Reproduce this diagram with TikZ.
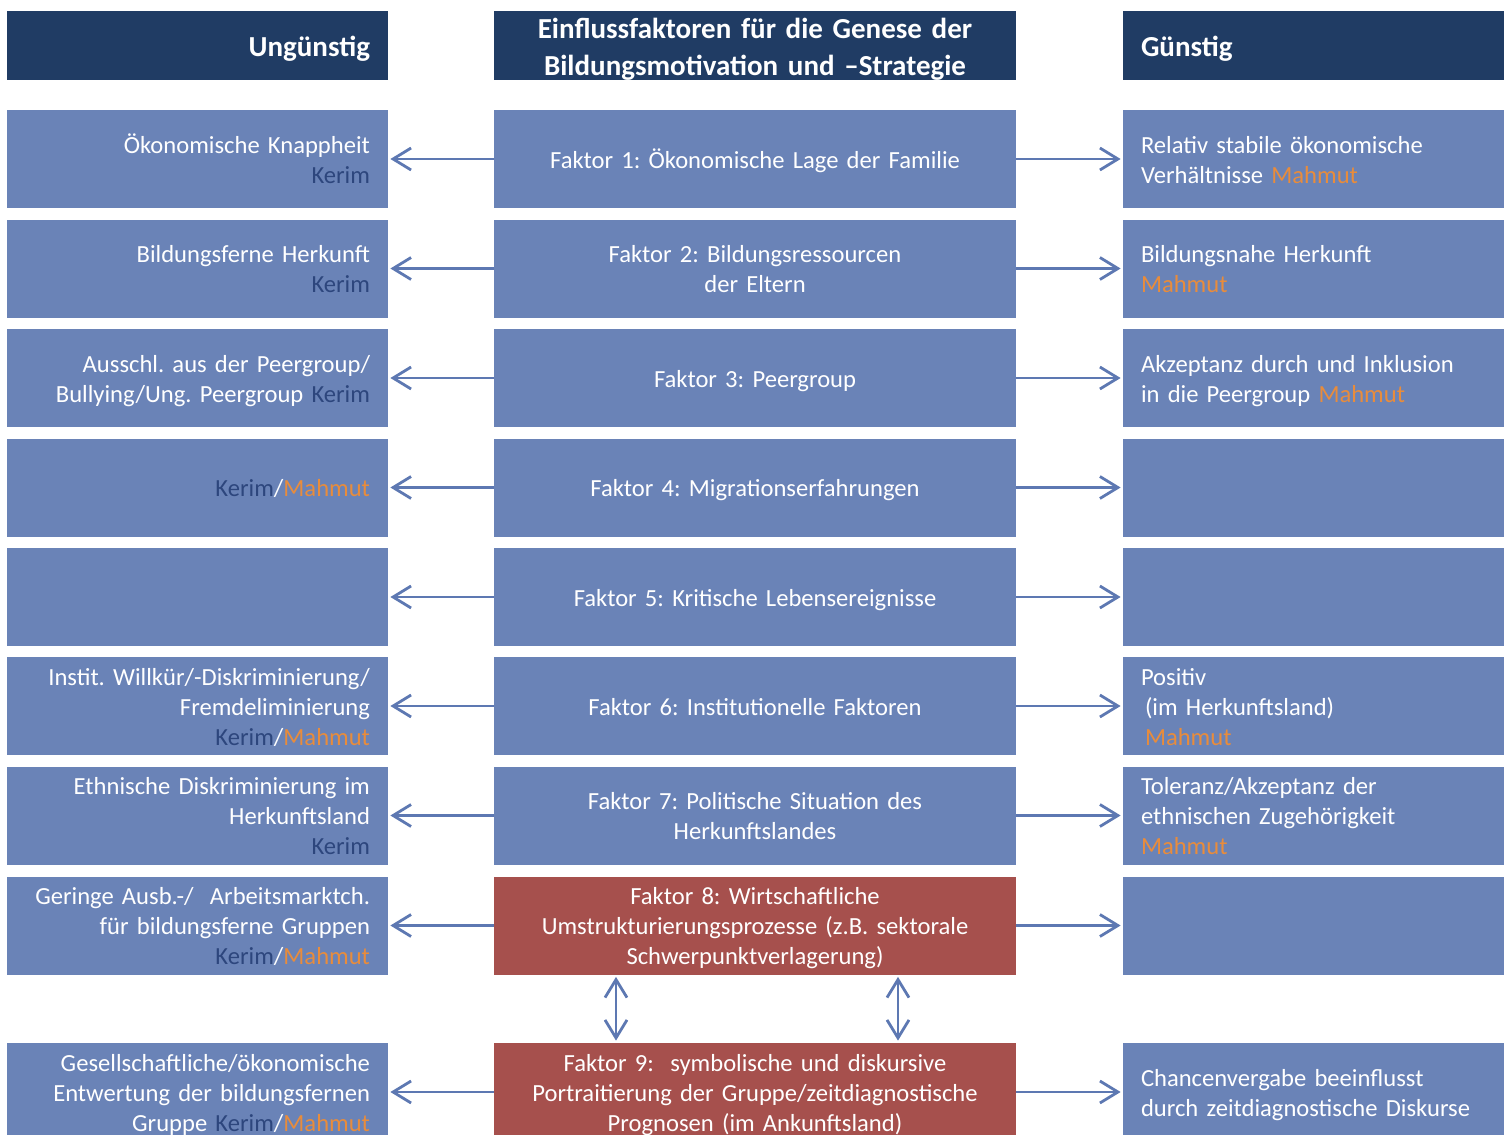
\documentclass[tikz,border=0pt]{standalone}
\usepackage{fontspec}
\setmainfont{Carlito}
\usepackage{tikz}
\usetikzlibrary{arrows.meta,positioning}
\definecolor{headB}{RGB}{32,60,100}
\definecolor{boxB}{RGB}{106,131,183}
\definecolor{boxR}{RGB}{166,80,77}
\definecolor{arrB}{RGB}{93,120,178}
\definecolor{kerimB}{RGB}{45,70,125}
\definecolor{mahmutO}{RGB}{232,140,60}
\newcommand{\kerim}{\textcolor{kerimB}{Kerim}}
\newcommand{\mahmut}{\textcolor{mahmutO}{Mahmut}}
\newcommand{\cellstrut}{\rule[-3pt]{0pt}{15pt}}
\newcommand{\headstrut}{\rule[-2pt]{0pt}{15.5pt}}
\frenchspacing

\begin{document}
\begin{tikzpicture}[
  x=0.5pt, y=-0.5pt, >={Straight Barb[length=9pt,width=11pt]},
  box/.style={rectangle, fill=boxB, text=white, inner xsep=9pt, inner ysep=0pt},
  cell/.style={box, minimum height=49pt, font=\fontsize{12.3}{15}\selectfont,
               execute at begin node=\cellstrut, execute at end node=\cellstrut},
  head/.style={box, fill=headB, minimum height=34.5pt,
               font=\bfseries\fontsize{14.5}{18.5}\selectfont,
               execute at begin node=\headstrut, execute at end node=\headstrut},
  lside/.style={text width=172.5pt, align=right},
  rside/.style={text width=172.5pt, align=left},
  mid/.style={text width=243pt, align=center},
  red/.style={fill=boxR},
  link/.style={->, arrB, line width=1.4pt, shorten >=1pt}]

  \useasboundingbox (0,0) rectangle (1505,1135);
  \fill[white] (0,0) rectangle (1505,1135);

  % headers
  \node[head, lside] (hl) at (197.5,45.5) {Ungünstig};
  \node[head, mid] (hc) at (755,45.5) {Einflussfaktoren für die Genese der\\ Bildungsmotivation und --Strategie};
  \node[head, rside] (hr) at (1313.5,45.5) {Günstig};

  % factors
  \node[cell, mid] (c1) at (755,159) {Faktor 1: Ökonomische Lage der Familie};
  \node[cell, mid] (c2) at (755,268.5) {Faktor 2: Bildungsressourcen\\ der Eltern};
  \node[cell, mid] (c3) at (755,378) {Faktor 3: Peergroup};
  \node[cell, mid] (c4) at (755,487.5) {Faktor 4: Migrationserfahrungen};
  \node[cell, mid] (c5) at (755,597) {Faktor 5: Kritische Lebensereignisse};
  \node[cell, mid] (c6) at (755,706) {Faktor 6: Institutionelle Faktoren};
  \node[cell, mid] (c7) at (755,815.5) {Faktor 7: Politische Situation des\\ Herkunftslandes};
  \node[cell, mid, red] (c8) at (755,925.5) {Faktor 8: Wirtschaftliche\\ Umstrukturierungsprozesse (z.B. sektorale\\ Schwerpunktverlagerung)};
  \node[cell, mid, red] (c9) at (755,1092) {Faktor 9:\ \ symbolische und diskursive\\ Portraitierung der Gruppe/zeitdiagnostische\\ Prognosen (im Ankunftsland)};

  % unfavourable side
  \node[cell, lside] (l1) at (197.5,159) {Ökonomische Knappheit\\ \kerim};
  \node[cell, lside] (l2) at (197.5,268.5) {Bildungsferne Herkunft\\ \kerim};
  \node[cell, lside] (l3) at (197.5,378) {Ausschl. aus der Peergroup/\\ Bullying/Ung. Peergroup \kerim};
  \node[cell, lside] (l4) at (197.5,487.5) {\kerim/\mahmut};
  \node[cell, lside] (l5) at (197.5,597) {};
  \node[cell, lside] (l6) at (197.5,706) {Instit. Willkür/-Diskriminierung/\\ Fremdeliminierung\\ \kerim/\mahmut};
  \node[cell, lside] (l7) at (197.5,815.5) {Ethnische Diskriminierung im\\ Herkunftsland\\ \kerim};
  \node[cell, lside] (l8) at (197.5,925.5) {Geringe Ausb.-/\ \ Arbeitsmarktch.\\ für bildungsferne Gruppen\\ \kerim/\mahmut};
  \node[cell, lside] (l9) at (197.5,1092) {Gesellschaftliche/ökonomische\\ Entwertung der bildungsfernen\\ Gruppe \kerim/\mahmut};

  % favourable side
  \node[cell, rside] (r1) at (1313.5,159) {Relativ stabile ökonomische\\ Verhältnisse \mahmut};
  \node[cell, rside] (r2) at (1313.5,268.5) {Bildungsnahe Herkunft\\ \mahmut};
  \node[cell, rside] (r3) at (1313.5,378) {Akzeptanz durch und Inklusion\\ in die Peergroup \mahmut};
  \node[cell, rside] (r4) at (1313.5,487.5) {};
  \node[cell, rside] (r5) at (1313.5,597) {};
  \node[cell, rside] (r6) at (1313.5,706) {Positiv\\ \hspace*{2pt}(im Herkunftsland)\\ \hspace*{2pt}\mahmut};
  \node[cell, rside] (r7) at (1313.5,815.5) {Toleranz/Akzeptanz der\\ ethnischen Zugehörigkeit\\ \mahmut};
  \node[cell, rside] (r8) at (1313.5,925.5) {};
  \node[cell, rside] (r9) at (1313.5,1092) {Chancenvergabe beeinflusst\\ durch zeitdiagnostische Diskurse};

  % arrows to both sides
  \draw[link] (c1) -- (l1);  \draw[link] (c1) -- (r1);
  \draw[link] (c2) -- (l2);  \draw[link] (c2) -- (r2);
  \draw[link] (c3) -- (l3);  \draw[link] (c3) -- (r3);
  \draw[link] (c4) -- (l4);  \draw[link] (c4) -- (r4);
  \draw[link] (c5) -- (l5);  \draw[link] (c5) -- (r5);
  \draw[link] (c6) -- (l6);  \draw[link] (c6) -- (r6);
  \draw[link] (c7) -- (l7);  \draw[link] (c7) -- (r7);
  \draw[link] (c8) -- (l8);  \draw[link] (c8) -- (r8);
  \draw[link] (c9) -- (l9);  \draw[link] (c9) -- (r9);

  % factor 8 <-> factor 9
  \coordinate (va) at (616,1008);
  \coordinate (vb) at (898,1008);
  \draw[link, <->, shorten <=1pt] (c8.south -| va) -- (c9.north -| va);
  \draw[link, <->, shorten <=1pt] (c8.south -| vb) -- (c9.north -| vb);
\end{tikzpicture}
\end{document}
